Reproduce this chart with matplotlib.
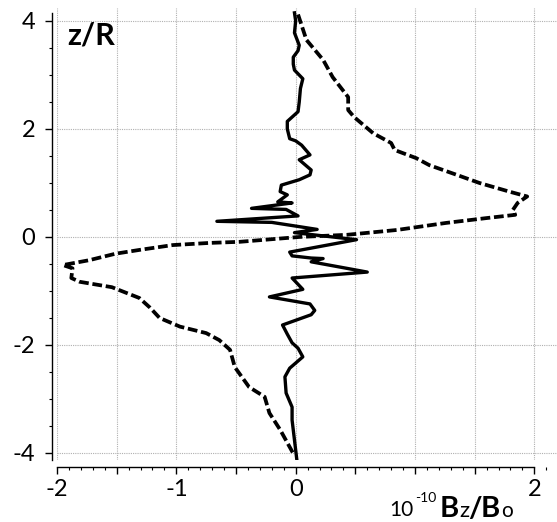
import matplotlib
matplotlib.use("Agg")
import matplotlib.pyplot as plt
from matplotlib.ticker import MultipleLocator

plt.rcParams['font.family'] = ['Lato', 'DejaVu Sans']
plt.rcParams['axes.unicode_minus'] = False

# Solid curve (z/R vs Bz/Bo)
sol_x = [-0.01, 0.00, -0.01, 0.03, 0.02, -0.02, -0.02, -0.01, 0.06, 0.04, 0.03, 0.02,
         -0.07, -0.07, -0.05, 0.00, 0.05, 0.12, 0.03, 0.13, 0.12, 0.03, -0.12, -0.13,
         -0.07, -0.15, -0.03, -0.37, -0.08, 0.02, -0.66, -0.20, 0.18, -0.01, 0.51,
         -0.05, -0.03, 0.13, 0.23, 0.13, 0.60, -0.03, 0.06, -0.22, 0.12, 0.16, 0.13,
         -0.11, -0.07, -0.03, 0.02, 0.06, -0.05, -0.09, -0.08, -0.03, -0.03, -0.01, 0.01]
sol_y = [4.15, 4.00, 3.78, 3.55, 3.45, 3.33, 3.20, 3.09, 2.93, 2.75, 2.50, 2.32,
         2.14, 2.00, 1.82, 1.78, 1.70, 1.52, 1.43, 1.24, 1.15, 1.06, 0.96, 0.84,
         0.78, 0.65, 0.63, 0.53, 0.51, 0.39, 0.29, 0.27, 0.14, 0.08, -0.05,
         -0.28, -0.35, -0.39, -0.40, -0.46, -0.65, -0.76, -0.97, -1.11, -1.24, -1.36, -1.44,
         -1.63, -1.80, -1.96, -2.06, -2.22, -2.43, -2.59, -2.89, -3.15, -3.39, -3.76, -4.13]

# Dashed curve
dash_x = [0.02, 0.09, 0.23, 0.31, 0.44, 0.44, 0.49, 0.65, 0.80, 0.83, 1.01, 1.12, 1.35,
          1.54, 1.79, 1.94, 1.86, 1.82, 1.84, 1.60, 1.26, 0.85, 0.43, 0.03, -0.47, -0.72,
          -1.03, -1.31, -1.51, -1.73, -1.95, -1.87, -1.88, -1.81, -1.54, -1.31, -1.22,
          -1.14, -0.97, -0.75, -0.64, -0.55, -0.51, -0.39, -0.26, -0.22, -0.13, -0.01]
dash_y = [4.12, 3.65, 3.28, 2.96, 2.59, 2.35, 2.22, 1.92, 1.74, 1.61, 1.46, 1.33, 1.15,
          1.00, 0.84, 0.75, 0.63, 0.50, 0.41, 0.35, 0.26, 0.13, 0.04, 0.00, -0.09, -0.11,
          -0.15, -0.24, -0.31, -0.43, -0.52, -0.58, -0.76, -0.83, -0.93, -1.13, -1.31,
          -1.50, -1.66, -1.78, -1.91, -2.09, -2.41, -2.78, -2.96, -3.26, -3.57, -4.05]

x_tick_vals = [-2, -1.5, -1, -0.5, 0, 0.5, 1, 1.5, 2]
x_tick_labels = ['-2', '', '-1', '', '0', '', '', '', '2']
y_tick_vals = [-4, -2, 0, 2, 4]
y_tick_labels = ['-4', '-2', '0', '2', '4']

W, H = 557, 522
fig = plt.figure(figsize=(W / 100, H / 100), dpi=100)
ax = fig.add_axes([57 / W, (H - 460) / H, 500 / W, 452 / H])

ax.plot(sol_x, sol_y, color='black', lw=2.4, solid_joinstyle='round', zorder=3)
ax.plot(dash_x, dash_y, color='black', lw=2.7, dashes=(2.6, 1.0), zorder=3)

ax.set_xlim(-2.0, 2.19)
ax.set_ylim(-4.13, 4.24)

ax.set_xticks(x_tick_vals)
ax.set_xticklabels(x_tick_labels)
ax.xaxis.set_minor_locator(MultipleLocator(0.1))
ax.set_yticks(y_tick_vals)
ax.set_yticklabels(y_tick_labels)
ax.yaxis.set_minor_locator(MultipleLocator(0.5))

ax.grid(True, which='major', color='#b0b0b0', lw=0.8, linestyle=(0, (1, 1)))
ax.set_axisbelow(True)

for s in ['top', 'right']:
    ax.spines[s].set_visible(False)
ax.spines['left'].set_position(('outward', 3.6))
ax.spines['bottom'].set_position(('outward', 5))
ax.spines['left'].set_bounds(-4.13, 4.15)
ax.spines['bottom'].set_bounds(-2, 2)
for s in ['left', 'bottom']:
    ax.spines[s].set_linewidth(1.0)

ax.tick_params(axis='both', which='major', length=5, width=1.0, labelsize=17, direction='out')
ax.tick_params(axis='both', which='minor', length=2.5, width=0.8, direction='out')
ax.tick_params(axis='y', which='major', pad=7)
ax.tick_params(axis='x', which='major', pad=4)

# z/R label
fig.text(67 / W, (H - 45) / H, 'z/R', fontsize=22, fontweight='bold', ha='left', va='baseline')

# x label pieces
def px(xp, yp):
    return xp / W, (H - yp) / H

fig.text(*px(389, 516), '10', fontsize=15, ha='left', va='baseline')
fig.text(*px(415, 502), '-10', fontsize=10, ha='left', va='baseline')
fig.text(*px(440, 517), 'B', fontsize=21, fontweight='bold', ha='left', va='baseline')
fig.text(*px(459, 517), 'z', fontsize=16, ha='left', va='baseline')
fig.text(*px(468, 517), '/', fontsize=21, fontweight='bold', ha='left', va='baseline')
fig.text(*px(481, 517), 'B', fontsize=21, fontweight='bold', ha='left', va='baseline')
fig.text(*px(501, 517), 'o', fontsize=15, ha='left', va='baseline')

fig.savefig('out.png', dpi=100)
